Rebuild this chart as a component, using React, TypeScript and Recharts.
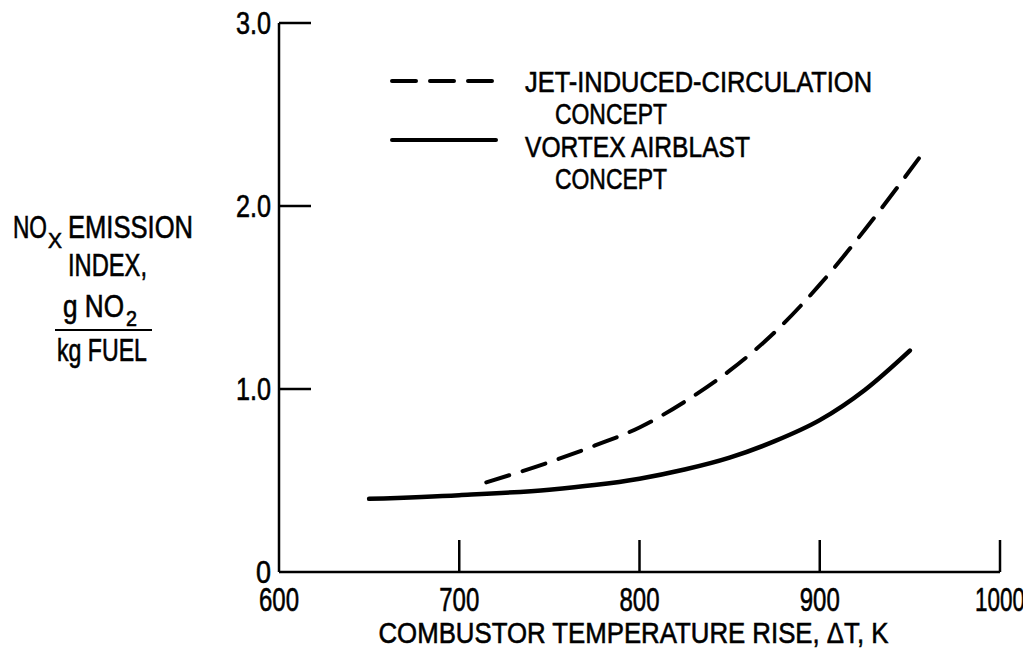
import { LineChart, Line, XAxis, YAxis, Legend } from "recharts";

const FONT = "'Liberation Sans', Arial, sans-serif";
const SQ = "spacingAndGlyphs";
const INK = { fontFamily: FONT, fill: "#000", stroke: "#000", strokeWidth: 0.6 };

// combustor temperature rise, K
const jetTemp = [715, 750, 775, 800, 825, 850, 875, 900, 925, 955];
const vortexTemp = [650, 700, 750, 775, 800, 825, 850, 875, 900, 925, 950];
// NOx emission index, g NO2 / kg fuel
const jetIndex = [0.49, 0.6, 0.69, 0.79, 0.93, 1.1, 1.31, 1.57, 1.87, 2.26];
const vortexIndex = [0.4, 0.42, 0.45, 0.475, 0.51, 0.56, 0.625, 0.715, 0.83, 0.995, 1.21];

const xTicks = [600, 700, 800, 900, 1000];
const yTicks = [0, 1, 2, 3];

const seriesNames = ["JET-INDUCED-CIRCULATION", "VORTEX AIRBLAST"];
const seriesSub = ["CONCEPT", "CONCEPT"];
const seriesDash = ["24 14", undefined];

const jetData = jetTemp.map((x, i) => ({ x, y: jetIndex[i] }));
const vortexData = vortexTemp.map((x, i) => ({ x, y: vortexIndex[i] }));

function XTick(props: any) {
  const { x, y, payload } = props;
  const label = String(payload.value);
  return (
    <g>
      {payload.value !== xTicks[0] && (
        <line x1={x} x2={x} y1={y} y2={y - 32} stroke="#000" strokeWidth={2.5} />
      )}
      <text
        {...INK}
        x={x}
        y={y + 39}
        textAnchor="middle"
        fontSize={33}
        textLength={label.length > 3 ? 50 : 40}
        lengthAdjust={SQ}
      >
        {label}
      </text>
    </g>
  );
}

function YTick(props: any) {
  const { x, y, payload } = props;
  const label = payload.value === 0 ? "0" : payload.value.toFixed(1);
  return (
    <g>
      {payload.value !== 0 && (
        <line x1={x} x2={x + 32} y1={y} y2={y} stroke="#000" strokeWidth={2.5} />
      )}
      <text
        {...INK}
        x={x - 8}
        y={y + 11}
        textAnchor="end"
        fontSize={32}
        textLength={label.length > 1 ? 35 : 15}
        lengthAdjust={SQ}
      >
        {label}
      </text>
    </g>
  );
}

function XLabel(props: any) {
  const { x, y, width } = props.viewBox;
  return (
    <text
      {...INK}
      x={x + width / 2 - 6}
      y={y + 71}
      textAnchor="middle"
      fontSize={30}
      textLength={510}
      lengthAdjust={SQ}
    >
      COMBUSTOR TEMPERATURE RISE, ΔT, K
    </text>
  );
}

function YLabel(props: any) {
  const { x, y } = props.viewBox;
  const top = y - 15;
  return (
    <g {...INK} fontSize={31}>
      <text x={x + 5} y={top + 230} textLength={34} lengthAdjust={SQ}>NO</text>
      <text x={x + 40} y={top + 240} fontSize={22} textLength={14} lengthAdjust={SQ}>X</text>
      <text x={x + 60} y={top + 230} textLength={125} lengthAdjust={SQ}>EMISSION</text>
      <text x={x + 60} y={top + 268} textLength={79} lengthAdjust={SQ}>INDEX,</text>
      <text x={x + 55} y={top + 309} textLength={61} lengthAdjust={SQ}>g NO</text>
      <text x={x + 118} y={top + 318} fontSize={22} textLength={11} lengthAdjust={SQ}>2</text>
      <line x1={x + 47} x2={x + 144} y1={top + 322} y2={top + 322} stroke="#000" strokeWidth={2.2} />
      <text x={x + 49} y={top + 353} textLength={90} lengthAdjust={SQ}>kg FUEL</text>
    </g>
  );
}

const nameWidths = [347, 225];

function LegendBox() {
  const lineY = [21, 80];
  const textY = [32, 97];
  return (
    <svg width={620} height={140} style={{ display: "block" }}>
      <g {...INK} fontSize={30}>
        {seriesNames.map((name, i) => (
          <g key={name}>
            <line
              x1={4}
              x2={108}
              y1={lineY[i]}
              y2={lineY[i]}
              stroke="#000"
              strokeWidth={4}
              strokeLinecap="round"
              strokeDasharray={seriesDash[i]}
            />
            <text x={137} y={textY[i]} textLength={nameWidths[i]} lengthAdjust={SQ}>
              {name}
            </text>
            <text x={167} y={textY[i] + 32} textLength={112} lengthAdjust={SQ}>
              {seriesSub[i]}
            </text>
          </g>
        ))}
      </g>
    </svg>
  );
}

export default function App() {
  return (
    <div style={{ background: "#fff", width: 1023, height: 645 }}>
      <LineChart
        width={1023}
        height={645}
        margin={{ top: 15, right: 31, bottom: 21, left: 0 }}
      >
        <XAxis
          dataKey="x"
          type="number"
          domain={[600, 1000]}
          ticks={xTicks}
          allowDataOverflow
          tickSize={0}
          tickMargin={0}
          height={60}
          axisLine={{ stroke: "#000", strokeWidth: 2.5 }}
          tickLine={false}
          tick={(p: any) => <XTick {...p} />}
          label={{ content: XLabel }}
        />
        <YAxis
          type="number"
          domain={[0, 3]}
          ticks={yTicks}
          allowDataOverflow
          tickSize={0}
          tickMargin={0}
          width={271}
          axisLine={{ stroke: "#000", strokeWidth: 2.5 }}
          tickLine={false}
          tick={(p: any) => <YTick {...p} />}
          label={{ content: YLabel }}
        />
        <Line
          data={jetData}
          dataKey="y"
          type="monotone"
          stroke="#000"
          strokeWidth={4}
          strokeLinecap="round"
          strokeDasharray="24 14"
          dot={false}
          activeDot={false}
          isAnimationActive={false}
        />
        <Line
          data={vortexData}
          dataKey="y"
          type="monotone"
          stroke="#000"
          strokeWidth={4.5}
          strokeLinecap="round"
          dot={false}
          activeDot={false}
          isAnimationActive={false}
        />
        <Legend
          layout="vertical"
          align="center"
          verticalAlign="middle"
          content={() => <LegendBox />}
          wrapperStyle={{ top: 52, left: 380, width: 620, height: 140 }}
        />
      </LineChart>
    </div>
  );
}
